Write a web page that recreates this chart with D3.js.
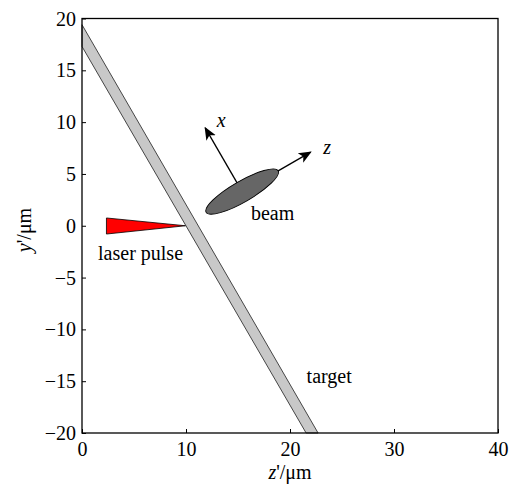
<!DOCTYPE html>
<html>
<head>
<meta charset="utf-8">
<script src="https://cdn.jsdelivr.net/npm/d3@7"></script>
<style>
  body { margin: 0; background: #fff; }
  text { font-family: "Liberation Serif", "Times New Roman", serif; }
</style>
</head>
<body>
<svg id="chart" width="522" height="486"></svg>
<script>
// domain and ticks
const zDomain = [0, 40];
const yDomain = [-20, 20];
const zTicks = [0, 10, 20, 30, 40];
const yTicks = [-20, -15, -10, -5, 0, 5, 10, 15, 20];

// target slab corners (z', y')
const target = [[0, 19.4], [22.7, -20], [21.55, -20], [0, 17.3]];
// laser pulse triangle
const pulse = [[2.35, 0.75], [2.35, -0.8], [9.95, 0]];
// beam: centre, half axes, angle (deg)
const beamCentre = [15.4, 3.3];
const beamAxes = [4.0, 1.0];
const beamAngle = 30;
// frame arrows along the beam frame
const arrows = [
  { name: "x", angle: 120, from: 0, to: 7.1, lz: 12.95, ly: 9.5 },
  { name: "z", angle: 30, from: 3.9, to: 7.6, lz: 23.2, ly: 6.9 }
];
const labels = [
  { text: "laser pulse", z: 5.63, y: -3.3 },
  { text: "beam", z: 18.33, y: 0.55 },
  { text: "target", z: 23.77, y: -15.2 }
];

const margin = { left: 82, right: 24, top: 18.5, bottom: 53 };
const W = 522, H = 486;
const FS = 20;
const svg = d3.select("#chart");

const x = d3.scaleLinear().domain(zDomain).range([margin.left, W - margin.right]);
const y = d3.scaleLinear().domain(yDomain).range([H - margin.bottom, margin.top]);

svg.append("defs").append("marker")
  .attr("id", "head")
  .attr("viewBox", "0 0 10 10")
  .attr("refX", 9).attr("refY", 5)
  .attr("markerWidth", 13).attr("markerHeight", 13)
  .attr("markerUnits", "userSpaceOnUse")
  .attr("orient", "auto")
  .append("path")
  .attr("d", "M0,0.8 L10,5 L0,9.2 L2.5,5 Z")
  .attr("fill", "#000");

const line = d3.line().x(d => x(d[0])).y(d => y(d[1]));

// target
svg.append("path")
  .attr("d", line(target) + "Z")
  .attr("fill", "#c8c8c8")
  .attr("stroke", "#333")
  .attr("stroke-width", 0.9);

// laser pulse
svg.append("path")
  .attr("d", line(pulse) + "Z")
  .attr("fill", "#ff0000")
  .attr("stroke", "#000")
  .attr("stroke-width", 0.8);

// arrows
const rad = a => a * Math.PI / 180;
arrows.forEach(a => {
  const c = Math.cos(rad(a.angle)), s = Math.sin(rad(a.angle));
  svg.append("line")
    .attr("x1", x(beamCentre[0] + a.from * c)).attr("y1", y(beamCentre[1] + a.from * s))
    .attr("x2", x(beamCentre[0] + a.to * c)).attr("y2", y(beamCentre[1] + a.to * s))
    .attr("stroke", "#000").attr("stroke-width", 1.3)
    .attr("marker-end", "url(#head)");
  svg.append("text")
    .attr("x", x(a.lz)).attr("y", y(a.ly))
    .attr("font-size", FS).attr("font-style", "italic")
    .text(a.name);
});

// beam ellipse
const kx = x(1) - x(0), ky = y(0) - y(1);
svg.append("ellipse")
  .attr("cx", x(beamCentre[0])).attr("cy", y(beamCentre[1]))
  .attr("rx", beamAxes[0] * kx).attr("ry", beamAxes[1] * ky)
  .attr("transform", `rotate(${-beamAngle},${x(beamCentre[0])},${y(beamCentre[1])})`)
  .attr("fill", "#666").attr("stroke", "#000").attr("stroke-width", 0.9);

labels.forEach(l => {
  svg.append("text")
    .attr("x", x(l.z)).attr("y", y(l.y))
    .attr("text-anchor", "middle")
    .attr("font-size", FS)
    .text(l.text);
});

// frame
svg.append("rect")
  .attr("x", x(0)).attr("y", y(20))
  .attr("width", x(40) - x(0)).attr("height", y(-20) - y(20))
  .attr("fill", "none").attr("stroke", "#000").attr("stroke-width", 1.3);

const fmt = d => d < 0 ? "\u2212" + Math.abs(d) : String(d);

const gx = svg.append("g").attr("transform", `translate(0,${y(-20)})`)
  .call(d3.axisBottom(x).tickValues(zTicks).tickSize(-4).tickFormat(fmt));
const gy = svg.append("g").attr("transform", `translate(${x(0)},0)`)
  .call(d3.axisLeft(y).tickValues(yTicks).tickSize(-4).tickPadding(6).tickFormat(fmt));
[gx, gy].forEach(g => {
  g.select(".domain").remove();
  g.selectAll(".tick line").attr("stroke", "#000");
  g.selectAll("text").attr("font-size", FS).attr("fill", "#000")
    .attr("font-family", "Liberation Serif, serif");
});
gx.selectAll("text").attr("y", 23).attr("dy", 0);
gy.selectAll("text").attr("x", -6).attr("dy", "0.33em");

// axis titles
const xt = svg.append("text").attr("x", x(20)).attr("y", 479)
  .attr("text-anchor", "middle").attr("font-size", FS);
xt.append("tspan").attr("font-style", "italic").text("z");
xt.append("tspan").text("'/\u03bcm");

const yt = svg.append("text")
  .attr("transform", `translate(31,230) rotate(-90)`)
  .attr("text-anchor", "middle").attr("font-size", FS);
yt.append("tspan").attr("font-style", "italic").text("y");
yt.append("tspan").text("'/\u03bcm");
</script>
</body>
</html>
